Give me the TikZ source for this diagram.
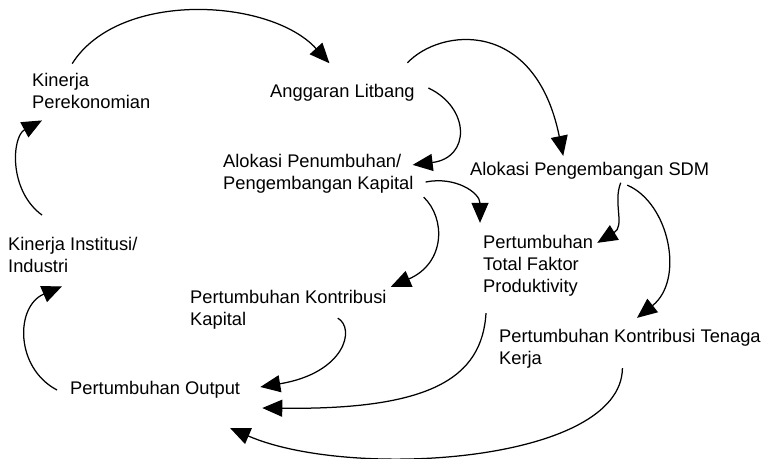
\documentclass[tikz,border=0pt]{standalone}
\usepackage{fontspec}
\setmainfont{Liberation Sans}
\usepackage{tikz}
\usetikzlibrary{arrows.meta}

\begin{document}
\begin{tikzpicture}[x=1pt,y=1pt,
    lbl/.style={anchor=west, align=left, inner sep=0pt,
      font=\fontsize{18.3}{22}\selectfont},
    flow/.style={line width=1.25pt, -{Triangle[length=20pt,width=17pt]}}]
  \path[use as bounding box] (0,0) rectangle (770,458);
  \fill[white] (0,0) rectangle (770,458);
  % factors
  \node[lbl] (kp)   at (32,367.5) {Kinerja\\Perekonomian};
  \node[lbl] (ang)  at (270,365)  {Anggaran Litbang};
  \node[lbl] (akap) at (223,284)  {Alokasi Penumbuhan/\\Pengembangan Kapital};
  \node[lbl] (asdm) at (470,287)  {Alokasi Pengembangan SDM};
  \node[lbl] (kii)  at (8,203)    {Kinerja Institusi/\\Industri};
  \node[lbl] (tfp)  at (483,192)  {Pertumbuhan\\Total Faktor\\Produktivity};
  \node[lbl] (pkk)  at (190,148)  {Pertumbuhan Kontribusi\\Kapital};
  \node[lbl] (pktk) at (499,109)  {Pertumbuhan Kontribusi Tenaga\\Kerja};
  \node[lbl] (po)   at (70,68)    {Pertumbuhan Output};
  % outer loop
  \draw[flow] ([shift={(-19,9)}]kp.north) .. controls +(47,74) and +(-59,65) .. ([shift={(-13,21)}]ang.north);
  \draw[flow] ([shift={(34,22)}]kii.north west) .. controls +(-34,25) and +(-30,-16) .. ([shift={(10,-12)}]kp.south west);
  \draw[flow] ([shift={(-13,0)}]po.west) .. controls +(-42,22) and +(-47,-20) .. ([shift={(54,-13.4)}]kii.south west);
  % litbang allocation
  \draw[flow] ([shift={(13.5,5)}]ang.east) .. controls +(42,-20) and +(58,7) .. ([shift={(-1,-10.6)}]akap.north east);
  \draw[flow] ([shift={(-7.5,21.4)}]ang.north east) .. controls +(33,35) and +(-28,138) .. ([shift={(-26.5,6.4)}]asdm.north);
  % capital branch
  \draw[flow] ([shift={(12,-8)}]akap.east) .. controls +(30,6) and +(0,30) .. ([shift={(-3,12.4)}]tfp.north west);
  \draw[flow] ([shift={(10,-3.4)}]akap.south east) .. controls +(22,-21) and +(55,24) .. ([shift={(4,3.4)}]pkk.north east);
  % sdm branch
  \draw[flow] ([shift={(31,-3)}]asdm.south) .. controls +(-8,-20) and +(28,17) .. ([shift={(4,-7.6)}]tfp.north east);
  \draw[flow] ([shift={(37.5,-5.4)}]asdm.south) .. controls +(42,-18) and +(48,38) .. ([shift={(138,11.4)}]pktk.north west);
  % growth of output
  \draw[flow] ([shift={(-49,11.6)}]pkk.south east) .. controls +(18,-10) and +(85,14) .. ([shift={(20,3)}]po.east);
  \draw[flow] ([shift={(3,-16.4)}]tfp.south west) .. controls +(-4,-65) and +(168,-2) .. ([shift={(22,-18)}]po.east);
  \draw[flow] ([shift={(-7.5,0.6)}]pktk.south) .. controls +(-1,-95) and +(120,-52) .. ([shift={(75,-29.4)}]po.south);
\end{tikzpicture}
\end{document}
